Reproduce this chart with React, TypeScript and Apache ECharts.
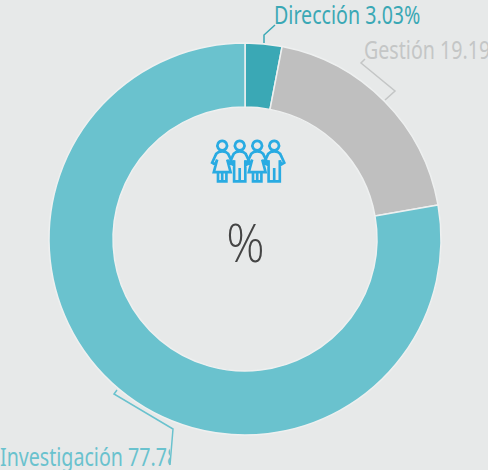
import React, { useEffect, useRef } from "react";
import * as echarts from "echarts";

const categories = ["Dirección", "Gestión", "Investigación"];
const values = [3.03, 19.19, 77.78];
const sliceColors = ["#3aa8b5", "#bfbfbf", "#6ac2ce"];
const labelColors = ["#3aa8b5", "#c4c6c6", "#6ac2ce"];
const BG = "#e7e9e9";

const womanPath =
  "M8 0.6a3.4 3.4 0 1 0 0.01 0z M5.5 8.6 Q8 7.6 10.5 8.6 Q12.5 9.5 13 11.5 L15.2 16.2 L13 17.5 L11.6 14 L14 23 L2 23 L4.4 14 L3 17.5 L0.8 16.2 L3 11.5 Q3.5 9.5 5.5 8.6 Z M5 23 L5 29.5 L11 29.5 L11 23 M8 23 L8 29.5";
const manPath =
  "M8 0.6a3.4 3.4 0 1 0 0.01 0z M5.5 8.6 Q8 7.6 10.5 8.6 Q12.5 9.5 13 11.5 L15.2 16.2 L13 17.5 L12 14.5 L12 29.5 L4 29.5 L4 14.5 L3 17.5 L0.8 16.2 L3 11.5 Q3.5 9.5 5.5 8.6 Z M8 20 L8 29.5";

echarts.graphic.registerShape("womanIcon", echarts.graphic.extendPath(womanPath, {}));
echarts.graphic.registerShape("manIcon", echarts.graphic.extendPath(manPath, {}));

export default function App() {
  const ref = useRef<HTMLDivElement>(null);
  useEffect(() => {
    document.body.style.margin = "0";
    const chart = echarts.init(ref.current!, undefined, { renderer: "svg" });
    const iconStyle = { fill: "none", stroke: "#29abe2", lineWidth: 1.9 };
    const font = "25px 'Noto Sans'";
    const narrow = 0.785;
    const icon = (type: string, x: number) => ({ type, x, y: 140, scaleX: 1.4, scaleY: 1.4, style: iconStyle });
    chart.setOption({
      animation: false,
      backgroundColor: BG,
      series: [
        {
          type: "pie",
          center: [245, 239],
          radius: [132, 196],
          startAngle: 90,
          clockwise: true,
          silent: true,
          label: { show: false },
          labelLine: { show: false },
          itemStyle: { borderColor: "#eef0f0", borderWidth: 1.5 },
          data: categories.map((name, i) => ({
            name,
            value: values[i],
            itemStyle: { color: sliceColors[i] },
          })),
        },
      ],
      graphic: [
        { type: "polyline", shape: { points: [[264, 43], [264, 35], [275, 25]] }, style: { fill: "none", stroke: labelColors[0], lineWidth: 1.5 } },
        { type: "polyline", shape: { points: [[365, 59], [361, 63], [395, 91], [385, 100]] }, style: { fill: "none", stroke: labelColors[1], lineWidth: 1.5 } },
        { type: "text", x: 274, y: 15, scaleX: narrow, style: { text: `${categories[0]} ${values[0].toFixed(2)}%`, font, fill: labelColors[0], verticalAlign: "middle" } },
        { type: "text", x: 364, y: 50, scaleX: narrow, style: { text: `${categories[1]} ${values[1].toFixed(2)}%`, font, fill: labelColors[1], verticalAlign: "middle" } },
        { type: "text", x: 0, y: 457, scaleX: narrow, style: { text: `${categories[2]} ${values[2].toFixed(2)}%`, font, fill: labelColors[2], verticalAlign: "middle" } },
        { type: "rect", shape: { x: 170, y: 440, width: 120, height: 30 }, style: { fill: BG } },
        { type: "polyline", shape: { points: [[117, 390], [114, 394], [173, 429], [170, 465]] }, style: { fill: "none", stroke: labelColors[2], lineWidth: 1.5 } },
        icon("womanIcon", 211),
        icon("manIcon", 228.5),
        icon("womanIcon", 246),
        icon("manIcon", 263),
        { type: "text", x: 245.5, y: 241, scaleX: 0.88, style: { text: "%", font: "300 54px 'Open Sans'", fill: "#444444", align: "center", verticalAlign: "middle" } },
      ],
    });
    return () => chart.dispose();
  }, []);
  return <div ref={ref} style={{ width: 488, height: 470, position: "absolute", left: 0, top: 0 }} />;
}
